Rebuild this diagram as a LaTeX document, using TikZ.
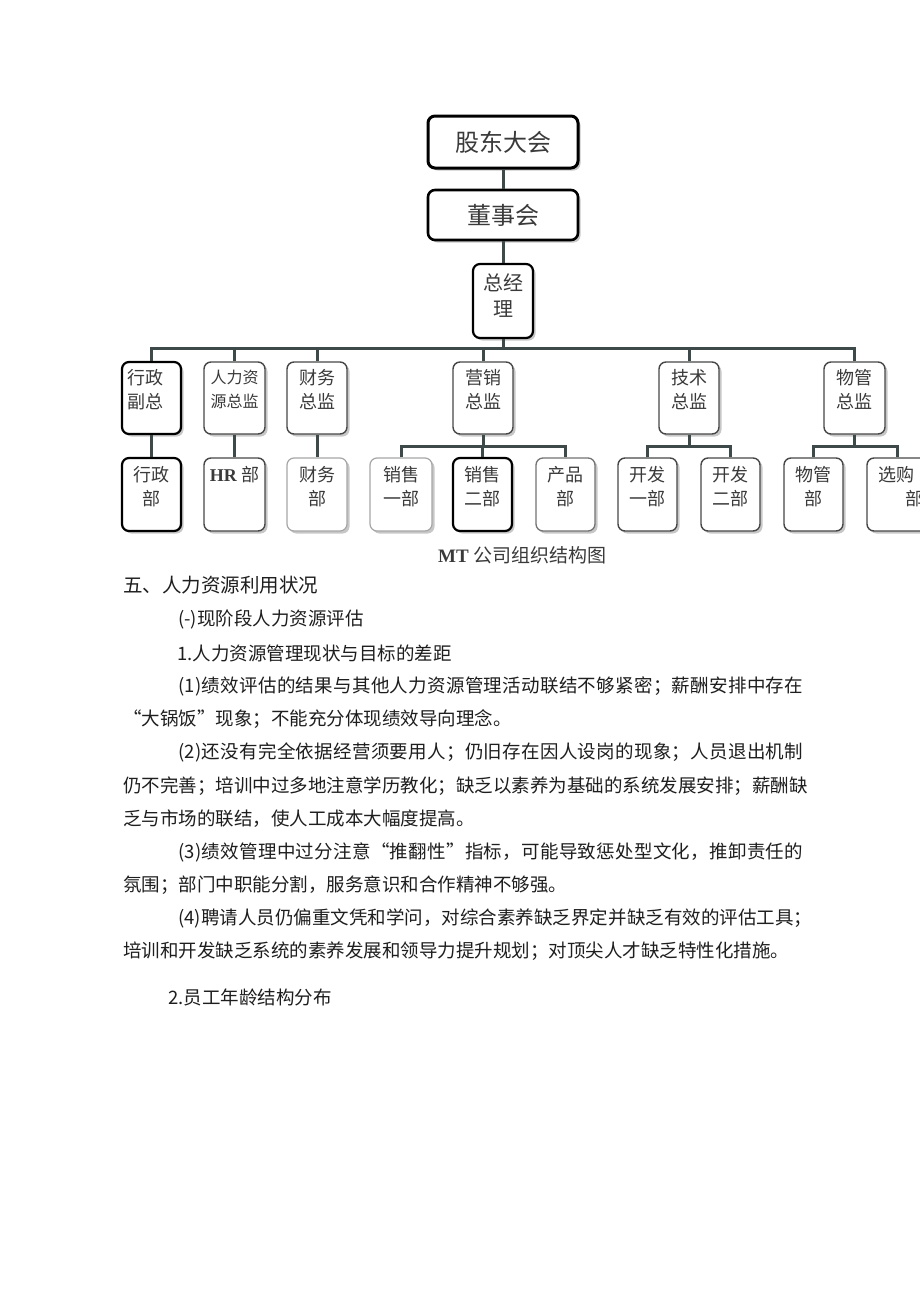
\documentclass[tikz,border=0pt]{standalone}
\usepackage{fontspec}
\setmainfont{Noto Sans CJK SC}
\newfontfamily\serifL{Liberation Serif}
\usetikzlibrary{shadows}
\definecolor{conncol}{HTML}{3E4A4A}
\definecolor{chartText}{HTML}{3A3A3A}
\definecolor{bodyText}{HTML}{1E1E1E}
\newcommand{\bt}[5]{\parbox[c][#2pt][t]{#1pt}{#4\vspace*{#3pt}#5\par}}
\def\spr#1{\ifx\relax#1\else#1\hskip0pt plus1fil\relax\expandafter\spr\fi}
\newcommand{\just}[2]{\hbox to #1pt{\spr#2\relax\unskip}}
\tikzset{
  orgbox/.style={rounded corners=7pt, fill=white, inner sep=0pt, text=chartText,
    drop shadow={shadow xshift=2.5pt, shadow yshift=-2.5pt, fill=black, opacity=0.22}},
  heavy/.style={orgbox, draw=black, line width=2.2pt},
  medium/.style={orgbox, draw=black!72, line width=1.4pt},
  pale/.style={orgbox, draw=black!35, line width=1.2pt},
  grey/.style={orgbox, draw=black!55, line width=1.3pt},
  lvtext/.style={font=\fontsize{18}{24}\selectfont},
  conn/.style={draw=conncol, line width=3pt},
  body/.style={anchor=west, inner sep=0pt, text=bodyText, font=\fontsize{18.5}{24}\selectfont},
}
\begin{document}
\begin{tikzpicture}[x=1pt,y=-1pt]
\useasboundingbox (0,0) rectangle (920,1301);
\clip (0,0) rectangle (920,1301);
\fill[white] (0,0) rectangle (920,1301);

% top levels
\node[heavy, line width=3pt, minimum width=150pt, minimum height=52pt, font=\fontsize{24}{28}\selectfont] (gd) at (503,142) {股东大会};
\node[heavy, line width=2.6pt, minimum width=150pt, minimum height=50pt, font=\fontsize{24}{28}\selectfont] (dsh) at (503,215) {董事会\hspace{10pt}};
\node[heavy, line width=2.2pt, font=\fontsize{20}{26}\selectfont] (zjl) at (503,301) {\bt{60}{74}{10}{\centering}{总经\\理}};

% level 2
\node[heavy, lvtext] (xz) at (151.5,398) {\bt{59}{72}{7}{\raggedright\leftskip=5pt}{行政\\副总}};
\node[medium, font=\fontsize{16}{24}\selectfont] (rl) at (234.5,398) {\bt{61}{72}{8.5}{\centering}{人力资\\源总监}};
\node[medium, lvtext] (cw) at (317,398) {\bt{60}{72}{7}{\centering}{财务\\总监}};
\node[medium, lvtext] (yx) at (483,398) {\bt{60}{72}{7}{\centering}{营销\\总监}};
\node[medium, lvtext] (js) at (689,398) {\bt{60}{72}{7}{\centering}{技术\\总监}};
\node[medium, lvtext] (wg) at (854.5,398) {\bt{61}{72}{7}{\centering}{物管\\总监}};

% level 3
\node[heavy, lvtext] (xzb) at (151.5,494.5) {\bt{59}{73}{8}{\centering}{行政\\部}};
\node[medium, lvtext] (hrb) at (234.5,494.5) {\bt{61}{73}{8}{\centering}{{\serifL\bfseries HR}\ 部}};
\node[pale, lvtext] (cwb) at (317,494.5) {\bt{60}{73}{8}{\centering}{财务\\部}};
\node[pale, lvtext] (xs1) at (401,494.5) {\bt{62}{73}{8}{\centering}{销售\\一部}};
\node[heavy, lvtext] (xs2) at (482.5,494.5) {\bt{59}{73}{8}{\centering}{销售\\二部}};
\node[grey, lvtext] (cp) at (565.5,494.5) {\bt{59}{73}{8}{\centering}{产品\\部}};
\node[medium, lvtext] (kf1) at (647.5,494.5) {\bt{59}{73}{8}{\centering}{开发\\一部}};
\node[medium, lvtext] (kf2) at (730.5,494.5) {\bt{59}{73}{8}{\centering}{开发\\二部}};
\node[medium, lvtext] (wgb) at (813.5,494.5) {\bt{59}{73}{8}{\centering}{物管\\部}};
\node[medium, lvtext] (xg) at (897.5,494.5) {\bt{61}{73}{8}{\raggedright\leftskip=11pt}{选购\\\hspace*{27pt}部}};

% connectors
\coordinate (bus) at (0,348);
\coordinate (sub) at (0,446);
\draw[conn] (gd.south) -- (dsh.north);
\draw[conn] (dsh.south) -- (zjl.north);
\draw[conn] (zjl.south) -- (zjl.south |- bus);
\draw[conn] (xz.north) -- (xz.north |- bus) -- (wg.north |- bus) -- (wg.north);
\foreach \n in {rl,cw,yx,js} \draw[conn] (\n.north) -- (\n.north |- bus);
\draw[conn] (xz.south) -- (xzb.north);
\draw[conn] (rl.south) -- (hrb.north);
\draw[conn] (cw.south) -- (cwb.north);
\draw[conn] (yx.south) -- (yx.south |- sub);
\draw[conn] (xs1.north) -- (xs1.north |- sub) -- (cp.north |- sub) -- (cp.north);
\draw[conn] (xs2.north) -- (xs2.north |- sub);
\draw[conn] (js.south) -- (js.south |- sub);
\draw[conn] (kf1.north) -- (kf1.north |- sub) -- (kf2.north |- sub) -- (kf2.north);
\draw[conn] (wg.south) -- (wg.south |- sub);
\draw[conn] (wgb.north) -- (wgb.north |- sub) -- (xg.north |- sub) -- (xg.north);

% caption
\node[anchor=west, inner sep=0pt, text=chartText, font=\fontsize{19}{24}\selectfont] (cap) at (438,555) {{\serifL\bfseries MT}\ 公司组织结构图};

% body text
\node[body, font=\fontsize{19.5}{24}\selectfont] (h5) at (123,585) {五、人力资源利用状况};
\node[body] (h51) at (178,619) {(-)现阶段人力资源评估};
\node[body] (h511) at (177,653) {1.人力资源管理现状与目标的差距};
\node[body] (p1a) at (178,686) {\just{625}{(1)绩效评估的结果与其他人力资源管理活动联结不够紧密；薪酬安排中存在}};
\node[body] (p1b) at (123,719) {“大锅饭”现象；不能充分体现绩效导向理念。};
\node[body] (p2a) at (178,752) {\just{625}{(2)还没有完全依据经营须要用人；仍旧存在因人设岗的现象；人员退出机制}};
\node[body] (p2b) at (123,786) {\just{680}{仍不完善；培训中过多地注意学历教化；缺乏以素养为基础的系统发展安排；薪酬缺}};
\node[body] (p2c) at (123,819) {乏与市场的联结，使人工成本大幅度提高。};
\node[body] (p3a) at (178,852) {\just{625}{(3)绩效管理中过分注意“推翻性”指标，可能导致惩处型文化，推卸责任的}};
\node[body] (p3b) at (123,885) {氛围；部门中职能分割，服务意识和合作精神不够强。};
\node[body] (p4a) at (178,918) {\just{634}{(4)聘请人员仍偏重文凭和学问，对综合素养缺乏界定并缺乏有效的评估工具；}};
\node[body] (p4b) at (123,951) {培训和开发缺乏系统的素养发展和领导力提升规划；对顶尖人才缺乏特性化措施。};
\node[body] (h512) at (168,997) {2.员工年龄结构分布};
\end{tikzpicture}
\end{document}
